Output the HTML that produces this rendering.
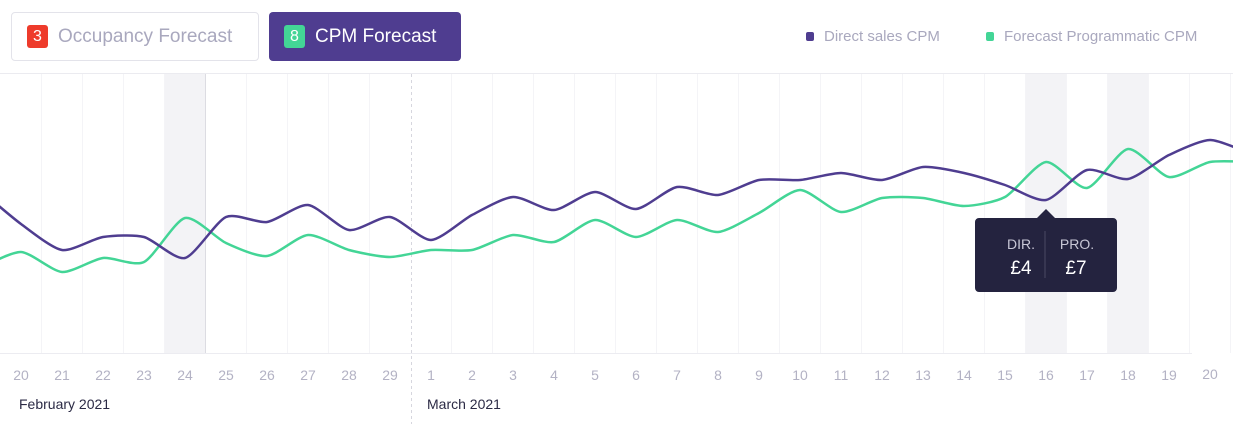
<!DOCTYPE html>
<html><head><meta charset="utf-8"><style>
body{margin:0;width:1233px;height:426px;background:#fff;font-family:"Liberation Sans",sans-serif;overflow:hidden;position:relative}
.btn{position:absolute;top:12px;height:49px;border-radius:4px;box-sizing:border-box;display:flex;align-items:center;font-size:19px}
.badge{width:21px;height:23px;border-radius:3px;color:#fff;font-size:16px;display:flex;align-items:center;justify-content:center;margin-right:10px}
.leg{position:absolute;top:28px;font-size:15px;color:#a9a8be;display:flex;align-items:center}
.leg i{width:8px;height:9px;border-radius:2px;margin-right:10px;display:inline-block}
</style></head><body>
<div class="btn" style="left:11px;width:248px;border:1px solid #e3e3ea;padding-left:15px;color:#a9a8be"><span class="badge" style="background:#ee3b2b">3</span>Occupancy Forecast</div>
<div class="btn" style="left:269px;width:192px;background:#4f3d90;padding-left:15px;color:#fff"><span class="badge" style="background:#43d596">8</span>CPM Forecast</div>
<div class="leg" style="left:806px"><i style="background:#4f3d90"></i>Direct sales CPM</div>
<div class="leg" style="left:986px"><i style="background:#43d596"></i>Forecast Programmatic CPM</div>
<svg id="chart" width="1233" height="426" style="position:absolute;left:0;top:0"></svg>
<script>
const days=[19,20,21,22,23,24,25,26,27,28,29,1,2,3,4,5,6,7,8,9,10,11,12,13,14,15,16,17,18,19,20,21];
const directSales=[8.15,6.45,5.15,5.8,5.8,4.75,6.8,6.55,7.4,6.15,6.8,5.65,6.9,7.8,7.15,8.05,7.2,8.3,7.9,8.65,8.65,9.0,8.65,9.3,9.0,8.4,7.65,9.15,8.7,9.9,10.65,9.95];
const programmatic=[4.25,5.05,4.05,4.75,4.55,6.75,5.5,4.85,5.9,5.15,4.8,5.15,5.15,5.9,5.55,6.65,5.8,6.65,6.05,7.0,8.15,7.05,7.75,7.75,7.35,7.8,9.55,8.25,10.2,8.8,9.55,9.55];
const shadedIdx=[5,26,28];
const NS="http://www.w3.org/2000/svg";
const svg=document.getElementById('chart');
const x=i=>-20+i*41;
const y=v=>353-v*20;
function mk(t,a){const e=document.createElementNS(NS,t);for(const k in a)e.setAttribute(k,a[k]);svg.appendChild(e);return e;}
let e;
e=mk('line',{x1:0,x2:1233,y1:73.5,y2:73.5,stroke:'#ebebf0'});


shadedIdx.forEach(i=>{
 e=mk('rect',{x:x(i)-20.5,y:74,width:41,height:279,fill:'#f3f3f6'});
 
 
});
for(let i=1;i<days.length;i++){
 const gx=x(i)+20.5;
 if(i===10) continue;
 e=mk('line',{x1:gx,x2:gx,y1:74,y2:353,stroke:i===5?'#dcdce2':'#f4f4f7'});
 
 
}
e=mk('line',{x1:411.5,x2:411.5,y1:74,y2:424,stroke:'#d6d6de','stroke-dasharray':'3,3'});


e=mk('line',{x1:0,x2:1192,y1:353.5,y2:353.5,stroke:'#ececf1'});


function path(vals){
 const p=vals.map((v,i)=>[x(i),y(v)]);let d='M'+p[0][0]+','+p[0][1];const t=0.12;
 for(let i=0;i<p.length-1;i++){const p0=p[i-1]||p[i],p1=p[i],p2=p[i+1],p3=p[i+2]||p2;
  d+=' C'+(p1[0]+(p2[0]-p0[0])*t)+','+(p1[1]+(p2[1]-p0[1])*t)+' '+(p2[0]-(p3[0]-p1[0])*t)+','+(p2[1]-(p3[1]-p1[1])*t)+' '+p2[0]+','+p2[1];}
 return d;}
e=mk('path',{d:path(programmatic),fill:'none',stroke:'#43d596','stroke-width':2.5,'stroke-linejoin':'round'});


e=mk('path',{d:path(directSales),fill:'none',stroke:'#4f3d90','stroke-width':2.5,'stroke-linejoin':'round'});


for(let i=1;i<days.length-1;i++){
 e=mk('text',{x:x(i),y:i===30?379:380,'text-anchor':'middle','font-size':14,fill:'#b3b2c4','font-family':'Liberation Sans'});
 e.textContent=days[i];
 
 
}
[['February 2021',19],['March 2021',427]].forEach(m=>{
 e=mk('text',{x:m[1],y:409,'font-size':14,fill:'#2b2a45','font-family':'Liberation Sans'});
 e.textContent=m[0];
 
 
});
const ti=26, tx=x(ti);
e=mk('path',{d:`M${tx-67},218 h${58} l9,-9 l9,9 h${58} a4,4 0 0 1 4,4 v66 a4,4 0 0 1 -4,4 h-134 a4,4 0 0 1 -4,-4 v-66 a4,4 0 0 1 4,-4z`,fill:'#24233f'});


e=mk('line',{x1:tx-1,x2:tx-1,y1:231,y2:278,stroke:'#4a4963'});


[['DIR.',tx-25,249,14,'#c8c7d6'],['£'+Math.round(directSales[ti]/2),tx-25,274,19,'#fff'],['PRO.',tx+31,249,14,'#c8c7d6'],['£'+Math.round(programmatic[ti]-2.5),tx+30,274,19,'#fff']].forEach(t=>{
 e=mk('text',{x:t[1],y:t[2],'text-anchor':'middle','font-size':t[3],fill:t[4],'font-family':'Liberation Sans'});
 e.textContent=t[0];
 
 
});
</script>
</body></html>
